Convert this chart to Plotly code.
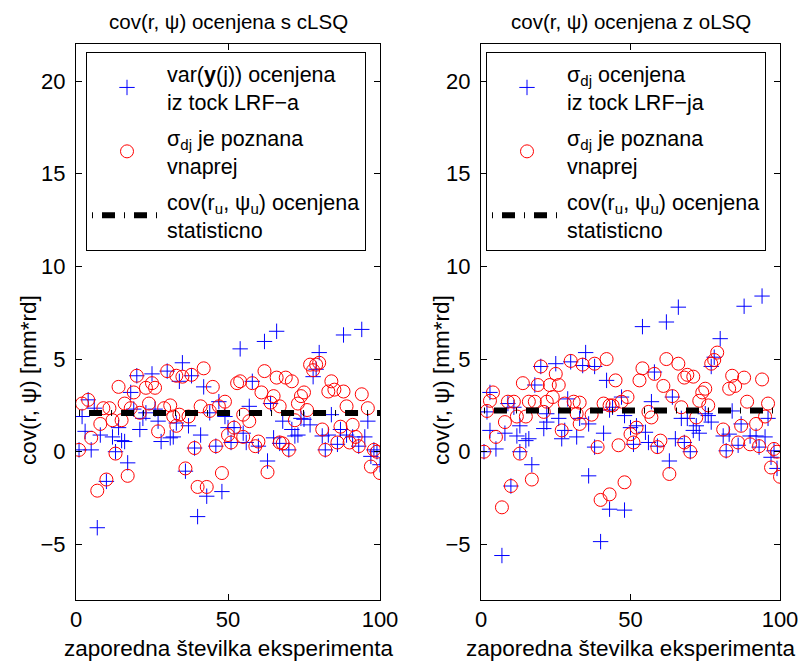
import plotly.graph_objects as go

FONT = "Liberation Sans, Arial, Helvetica, sans-serif"

# ---------------- data ----------------
x_ticks = [0, 50, 100]
y_ticks = [-5, 0, 5, 10, 15, 20]

# left panel: cLSQ
cl_var_x = [1, 2, 3, 4, 5, 6, 7, 8, 10, 12, 13, 14, 15, 16, 17, 18, 19, 20, 21, 22, 23, 25, 26, 27, 28, 30,
            31, 32, 33, 34, 35, 36, 37, 38, 39, 40, 41, 42, 43, 44, 46, 47, 48, 49, 50, 51, 52, 54, 55, 56,
            57, 58, 60, 62, 63, 64, 65, 66, 67, 68, 70, 71, 72, 73, 74, 75, 77, 78, 79, 80, 81, 82, 83, 84,
            86, 87, 88, 89, 91, 93, 94, 95, 96, 97, 98, 99, 100]
cl_var_y = [0.1, 1.9, 1.1, 2.8, 0.1, 2.35, -4.1, 0.9, -1.6, 0.8, 0.0, 1.3, 0.6, 0.55, -0.6, 3.2, 2.3, 4.1, 1.2, 1.8,
            2.1, 4.2, 2.3, 1.65, 0.55, 4.35, 0.75, 0.8, 1.55, 3.8, 4.8, -1.05, 1.4, 4.1, 0.2, -3.5, 0.9, 3.5,
            -2.4, 2.1, 0.3, 2.7, -2.15, 1.9, 1.3, 0.5, 1.3, 5.55, 1.0, 0.5, 2.45, 3.8, 0.3, 5.95, -0.5, 2.6,
            0.75, 6.5, 0.45, 1.65, 0.1, 1.2, 0.85, 0.9, 1.8, 1.75, 1.45, 4.05, 4.45, 5.35, 0.85, 0.1, 0.9, 2.0,
            0.4, 1.2, 6.3, 0.9, 0.8, 0.3, 6.6, 0.8, 1.65, -0.25, 0.1, 0.0, -0.7]

cl_sig_x = [1, 2, 4, 5, 7, 8, 9, 10, 11, 12, 13, 14, 15, 16, 17, 18, 19, 20, 21, 23, 24, 25, 26, 27, 29, 30,
            31, 32, 33, 33, 34, 35, 36, 37, 38, 39, 40, 41, 42, 43, 44, 45, 46, 47, 48, 49, 50, 51, 52, 53,
            54, 55, 55, 57, 58, 59, 60, 61, 62, 63, 64, 65, 66, 67, 67, 68, 69, 70, 71, 72, 73, 74, 75, 76,
            77, 78, 79, 80, 81, 82, 83, 84, 85, 86, 87, 88, 89, 90, 91, 92, 93, 94, 96, 97, 98, 99, 100]
cl_sig_y = [0.1, 2.6, 2.8, 0.75, -2.1, 1.5, 2.35, -1.5, 2.35, 1.7, -0.1, 3.5, 1.7, 2.6, -1.3, 2.35, 3.2, 4.1,
            2.1, 3.45, 2.6, 3.7, 3.45, 1.1, 2.35, 4.35, 2.5, 1.9, 4.1, 1.4, 2.0, 4.05, -0.9, 1.9, 4.15, 0.2,
            -1.9, 2.45, 4.5, -1.9, 2.2, 3.5, 0.3, 2.45, -1.15, 2.7, 0.9, 0.5, 1.3, 3.7, 3.8, 2.0, 0.8, 1.65,
            3.7, 0.3, 0.55, 3.2, 4.35, -1.1, 2.65, 3.0, 4.0, 2.45, 0.5, 0.45, 4.0, 0.1, 3.8, 1.7, 2.6, 3.0,
            3.2, 2.25, 4.7, 4.4, 4.7, 4.8, 1.2, 0.1, 3.25, 3.8, 3.35, 0.5, 1.35, 3.25, 2.45, 0.5, 1.45, 0.8,
            0.3, 3.1, 2.35, -0.8, 0.1, 0.0, -1.15]

cl_stat_x = [1, 100]
cl_stat_y = [2.09, 2.09]

# right panel: oLSQ
ol_var_x = [1, 2, 3, 3, 5, 7, 8, 9, 10, 11, 12, 13, 13, 15, 16, 17, 18, 20, 21, 22, 22, 25, 26, 27, 28, 29,
            30, 32, 33, 34, 35, 36, 36, 38, 38, 40, 41, 42, 43, 43, 44, 47, 48, 48, 50, 51, 52, 54, 55, 56,
            57, 58, 59, 62, 63, 64, 65, 66, 67, 68, 69, 70, 71, 72, 73, 75, 76, 77, 77, 78, 80, 81, 82, 83,
            84, 86, 87, 88, 90, 92, 93, 94, 95, 96, 97, 98, 99]
ol_var_y = [0.0, 2.15, 1.15, 3.2, 0.15, -5.6, 1.0, 2.6, -1.85, 2.4, 0.85, 0.0, 1.4, 0.6, 0.7, -0.7, 3.6, 4.6,
            1.25, 1.6, 2.05, 4.75, 1.8, 0.7, 1.15, 2.85, 4.85, 0.8, 1.8, 4.65, 5.35, 1.5, -1.3, 4.6, 0.25,
            -4.85, 1.0, 3.85, -3.1, 2.25, 2.4, 2.95, -3.15, 1.95, 1.3, 0.4, 1.4, 6.75, 1.05, 0.5, 2.7, 4.3,
            0.3, 7.0, -0.5, 2.95, 0.7, 7.8, 1.8, 0.5, 1.8, 0.0, 1.15, 1.4, 1.0, 2.05, 1.95, 1.6, 4.6, 5.1,
            6.1, 0.85, 0.05, 0.95, 2.2, 0.35, 1.5, 7.85, 0.85, 0.85, 0.25, 8.4, 0.8, 1.8, -0.3, 0.05, -0.9]

ol_sig_x = [1, 2, 3, 4, 5, 7, 8, 9, 10, 11, 12, 13, 14, 15, 16, 17, 18, 19, 20, 21, 22, 23, 24, 25, 26, 27,
            28, 30, 31, 32, 33, 33, 34, 37, 38, 39, 40, 41, 42, 43, 43, 44, 45, 46, 47, 48, 49, 50, 51, 52,
            53, 54, 56, 57, 58, 59, 60, 61, 62, 63, 64, 66, 67, 68, 68, 69, 70, 71, 72, 73, 74, 75, 76, 77,
            78, 79, 81, 82, 83, 84, 85, 86, 87, 88, 89, 90, 92, 93, 94, 95, 96, 97, 98, 99, 100]
ol_sig_y = [0.0, 2.2, 2.75, 3.2, 0.8, -3.0, 1.6, 2.7, -1.85, 2.7, 1.9, -0.1, 3.7, 1.9, 2.7, -1.5, 2.7, 3.6,
            4.6, 2.15, 2.7, 3.6, 2.95, 4.2, 3.6, 1.15, 2.6, 4.9, 2.7, 2.05, 2.65, 1.5, 4.7, 2.0, 4.75, 0.25,
            -2.6, 2.6, 5.0, -2.3, 2.5, 2.5, 3.85, 0.35, 2.7, -1.65, 2.95, 0.95, 0.5, 1.3, 3.85, 4.5, 2.15,
            1.85, 4.2, 0.25, 0.6, 3.55, 5.0, -1.2, 3.0, 4.75, 2.4, 4.0, 0.5, 4.15, 0.0, 4.05, 1.85, 2.75,
            3.2, 3.4, 2.5, 4.75, 4.95, 5.35, 1.2, 0.05, 3.4, 4.1, 3.55, 0.5, 1.4, 4.0, 2.7, 0.4, 1.5, 0.3,
            3.9, 1.9, 2.6, -0.85, 0.15, 0.0, -1.35]

ol_stat_x = [1, 100]
ol_stat_y = [2.22, 2.22]

titles = ["cov(r, ψ) ocenjena s cLSQ", "cov(r, ψ) ocenjena z oLSQ"]
x_label = "zaporedna številka eksperimenta"
y_label = "cov(r, ψ) [mm*rd]"

left_names = ["var(<b>y</b>(j)) ocenjena<br>iz tock LRF−a",
              "σ<sub>dj</sub> je poznana<br>vnaprej",
              "cov(r<sub>u</sub>, ψ<sub>u</sub>) ocenjena<br>statisticno"]
right_names = ["σ<sub>dj</sub> ocenjena<br>iz tock LRF−ja",
               "σ<sub>dj</sub> je poznana<br>vnaprej",
               "cov(r<sub>u</sub>, ψ<sub>u</sub>) ocenjena<br>statisticno"]

# ---------------- figure ----------------
W, H = 802, 663
fig = go.Figure()

plus_style = dict(symbol="cross-thin-open", size=11, color="#0000ff", line=dict(width=1, color="#0000ff"))
circ_style = dict(symbol="circle-open", size=13, color="#ff0000", line=dict(width=1, color="#ff0000"))
stat_line = dict(color="black", width=6, dash="1px,9px,13px,9px")

panels = [
    ("x", "y", "legend", left_names, cl_var_x, cl_var_y, cl_sig_x, cl_sig_y, cl_stat_x, cl_stat_y),
    ("x2", "y2", "legend2", right_names, ol_var_x, ol_var_y, ol_sig_x, ol_sig_y, ol_stat_x, ol_stat_y),
]
for k, (xa, ya, lg, names, vx, vy, sx, sy, tx, ty) in enumerate(panels):
    fig.add_trace(go.Scatter(x=vx, y=vy, mode="markers", marker=plus_style, name=names[0],
                             xaxis=xa, yaxis=ya, legend=lg, legendgroup=f"{k}a"))
    fig.add_trace(go.Scatter(x=sx, y=sy, mode="markers", marker=circ_style, name=names[1],
                             xaxis=xa, yaxis=ya, legend=lg, legendgroup=f"{k}b"))
    fig.add_trace(go.Scatter(x=tx, y=ty, mode="lines", line=stat_line, name=names[2],
                             xaxis=xa, yaxis=ya, legend=lg, legendgroup=f"{k}c"))

x_dom = [[76 / W, 380 / W], [481 / W, 780 / W]]
y_dom = [1 - 600 / H, 1 - 44 / H]

axis_common = dict(showline=True, linecolor="black", linewidth=1, mirror="ticks",
                   ticks="inside", ticklen=6, tickcolor="black", showgrid=False, zeroline=False,
                   automargin=False,
                   tickfont=dict(family=FONT, size=22, color="black"))

layout = dict(
    width=W, height=H, margin=dict(l=0, r=0, t=0, b=0, autoexpand=False),
    paper_bgcolor="white", plot_bgcolor="white",
    font=dict(family=FONT, size=21, color="black"),
)
for i, suf in enumerate(["", "2"]):
    layout["xaxis" + suf] = dict(axis_common, domain=x_dom[i], range=[0, 100], tickvals=x_ticks,
                                 anchor="y" + suf)
    layout["yaxis" + suf] = dict(axis_common, domain=y_dom, range=[-8, 22], tickvals=y_ticks,
                                 anchor="x" + suf, ticklabelstandoff=5)

legend_common = dict(bgcolor="white", bordercolor="black", borderwidth=1,
                     font=dict(family=FONT, size=21.5, color="black"),
                     xanchor="left", yanchor="top", itemwidth=70, tracegroupgap=5,
                     itemclick=False, itemdoubleclick=False)
layout["legend"] = dict(legend_common, x=86 / W, y=1 - 52 / H)
layout["legend2"] = dict(legend_common, x=486 / W, y=1 - 52 / H)
layout["showlegend"] = True

annotations = []
for i, t in enumerate(titles):
    xc = (x_dom[i][0] + x_dom[i][1]) / 2
    annotations.append(dict(text=t, xref="paper", yref="paper", x=xc, y=1 - 22 / H,
                            xanchor="center", yanchor="middle", showarrow=False,
                            font=dict(family=FONT, size=20.5, color="black")))
    annotations.append(dict(text=x_label, xref="paper", yref="paper", x=xc, y=1 - 648 / H,
                            xanchor="center", yanchor="middle", showarrow=False,
                            font=dict(family=FONT, size=22.5, color="black")))
ylab_x = [28, 441]
for i in range(2):
    annotations.append(dict(text=y_label, xref="paper", yref="paper", x=ylab_x[i] / W, y=1 - 380 / H,
                            xanchor="center", yanchor="middle", showarrow=False, textangle=-90,
                            font=dict(family=FONT, size=22.5, color="black")))
layout["annotations"] = annotations

fig.update_layout(**layout)
fig.write_html("out.html")
